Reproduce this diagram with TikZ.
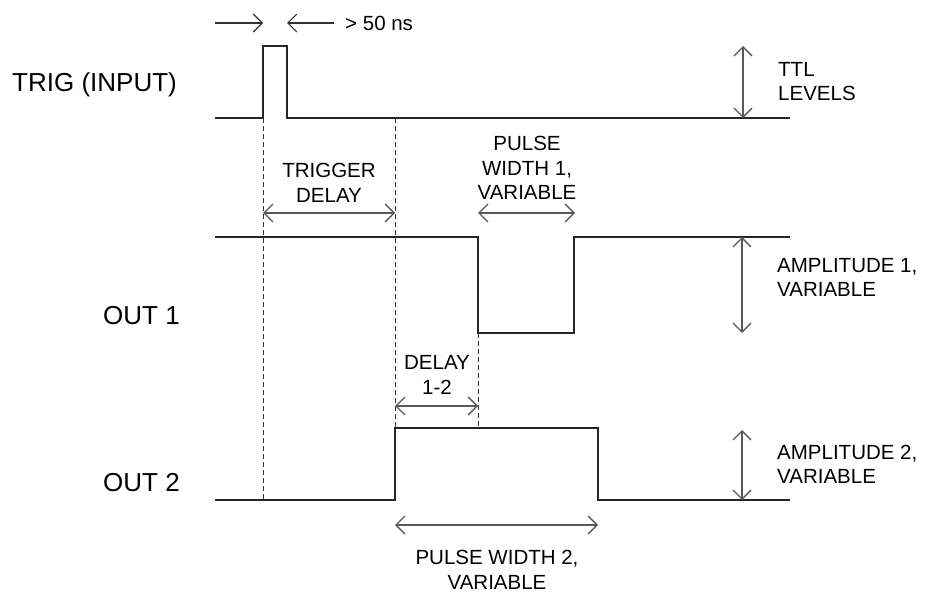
\documentclass[tikz,border=0pt]{standalone}
\usepackage{fontspec}
\setmainfont{Liberation Sans}
\usetikzlibrary{arrows.meta}
\begin{document}
\begin{tikzpicture}[x=1pt,y=-1pt,
  sig/.style={line width=1.3pt, black!85, line join=miter},
  guide/.style={line width=1pt, black!80, dash pattern=on 5pt off 3pt},
  dimarrow/.style={line width=1.3pt, black!65, {Straight Barb[length=9pt,width=18pt]}-{Straight Barb[length=9pt,width=18pt]}},
  onearrow/.style={line width=1.1pt, black!80, -{Straight Barb[length=9pt,width=18pt]}},
  lbl/.style={font=\fontsize{20.5}{24.5}\selectfont, inner sep=0pt, align=center},
  lblleft/.style={lbl, align=left, anchor=west},
  biglbl/.style={font=\fontsize{26}{30}\selectfont, inner sep=0pt, anchor=west}]
\useasboundingbox (0,0) rectangle (927,594);
% TRIG signal
\coordinate (t0) at (215,118);
\coordinate (t1) at (263,118);
\coordinate (t2) at (263,46);
\coordinate (t3) at (287,46);
\coordinate (t4) at (287,118);
\coordinate (t5) at (790,118);
\draw[sig] (t0) -- (t1) -- (t2) -- (t3) -- (t4) -- (t5);
% OUT 1 signal
\coordinate (a0) at (215,237);
\coordinate (a1) at (478,237);
\coordinate (a2) at (478,333);
\coordinate (a3) at (574,333);
\coordinate (a4) at (574,237);
\coordinate (a5) at (790,237);
\draw[sig] (a0) -- (a1) -- (a2) -- (a3) -- (a4) -- (a5);
% OUT 2 signal
\coordinate (b0) at (215,500);
\coordinate (b1) at (395,500);
\coordinate (b2) at (395,428);
\coordinate (b3) at (598,428);
\coordinate (b4) at (598,500);
\coordinate (b5) at (790,500);
\draw[sig] (b0) -- (b1) -- (b2) -- (b3) -- (b4) -- (b5);
% dashed guides
\coordinate (g1) at (263,500);
\coordinate (g2) at (395,118);
\coordinate (g3) at (478,428);
\draw[guide] (t1) -- (g1);
\draw[guide] (g2) -- (b2);
\draw[guide] (a2) -- (g3);
% top arrows
\coordinate (p1) at (215,23);
\coordinate (p2) at (263,23);
\coordinate (p3) at (334,23);
\coordinate (p4) at (287,23);
\draw[onearrow] (p1) -- (p2);
\draw[onearrow] (p3) -- (p4);
\node[lbl, anchor=west] (ns) at (345,23) {> 50 ns};
% dimension arrows
\coordinate (d1a) at (263,213); \coordinate (d1b) at (395,213);
\coordinate (d2a) at (478,213); \coordinate (d2b) at (575,213);
\coordinate (d3a) at (395,406); \coordinate (d3b) at (478,406);
\coordinate (d4a) at (395,525); \coordinate (d4b) at (598,525);
\coordinate (v1a) at (743,46);  \coordinate (v1b) at (743,118);
\coordinate (v2a) at (742,237); \coordinate (v2b) at (742,333);
\coordinate (v3a) at (742,430); \coordinate (v3b) at (742,500);
\draw[dimarrow] (d1a) -- (d1b);
\draw[dimarrow] (d2a) -- (d2b);
\draw[dimarrow] (d3a) -- (d3b);
\draw[dimarrow] (d4a) -- (d4b);
\draw[dimarrow] (v1a) -- (v1b);
\draw[dimarrow] (v2a) -- (v2b);
\draw[dimarrow] (v3a) -- (v3b);
% labels
\node[biglbl] (trig) at (12,85) {TRIG (INPUT)};
\node[biglbl] (out1) at (103,316) {OUT 1};
\node[biglbl] (out2) at (103,483) {OUT 2};
\node[lblleft] (ttl) at (778,81.5) {TTL\\LEVELS};
\node[lbl] (tdel) at (329,183) {TRIGGER\\DELAY};
\node[lbl] (pw1) at (527,168) {PULSE\\WIDTH 1,\\VARIABLE};
\node[lbl] (del12) at (437,375) {DELAY\\1-2};
\node[lblleft] (amp1) at (777,277.5) {AMPLITUDE 1,\\VARIABLE};
\node[lblleft] (amp2) at (777,464.5) {AMPLITUDE 2,\\VARIABLE};
\node[lbl] (pw2) at (497,570) {PULSE WIDTH 2,\\VARIABLE};
\end{tikzpicture}
\end{document}
